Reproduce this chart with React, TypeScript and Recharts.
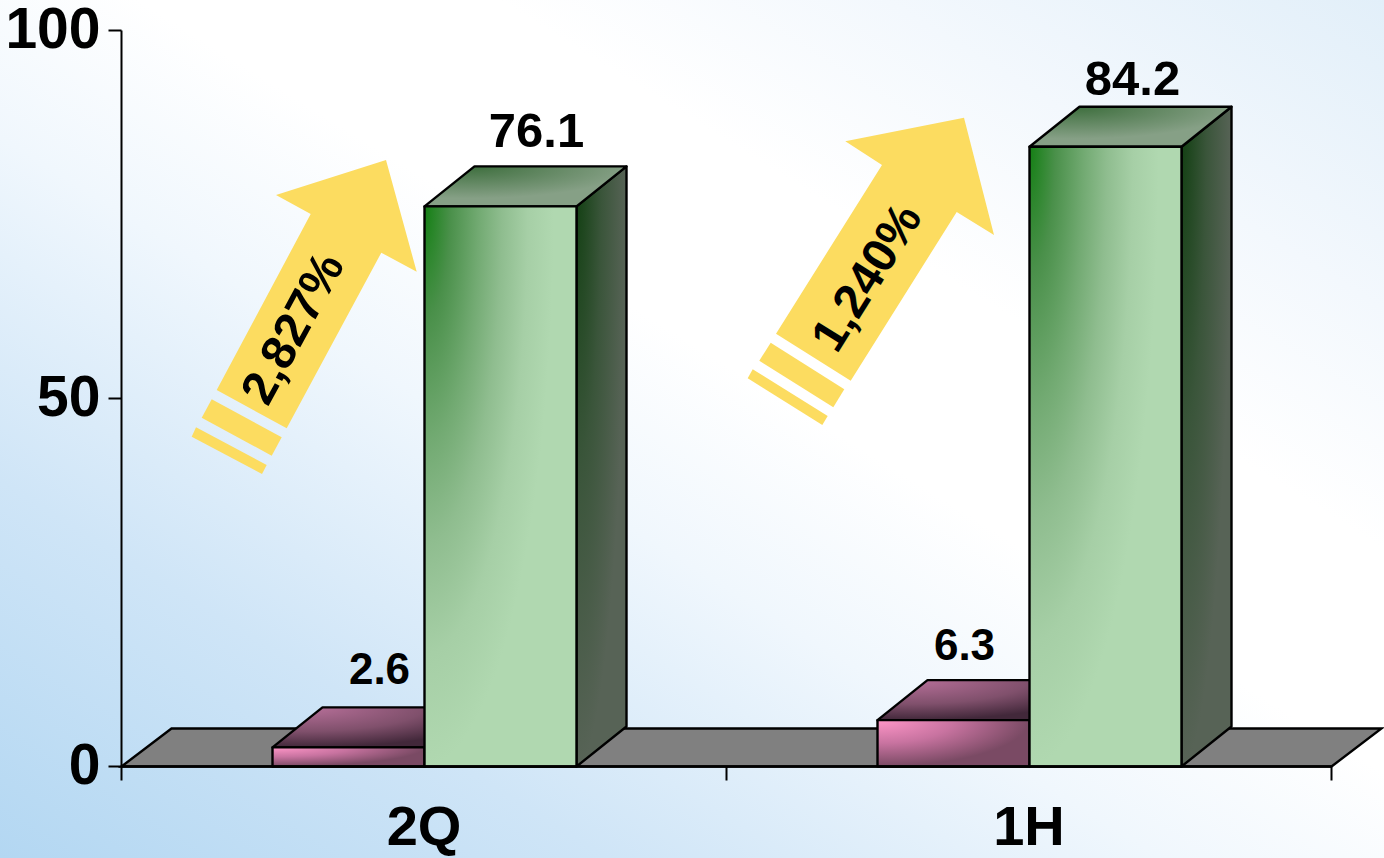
import { Bar, BarChart, LabelList, XAxis, YAxis, usePlotArea } from 'recharts';

const periods = ['2Q', '1H'];
const earlierValues = [2.6, 6.3];
const latestValues = [76.1, 84.2];
const valueTicks = [0, 50, 100];

const rows = periods.map((period, i) => ({
  period,
  earlier: earlierValues[i],
  latest: latestValues[i],
}));

const FONT = '"Liberation Sans", Arial, sans-serif';
const WIDTH = 1384;
const HEIGHT = 858;

// depth of the extruded boxes and of the floor
const DEPTH_X = 50;
const DEPTH_Y = 40;

// hand placed value labels, relative to the top centre of each bar
const earlierLabelShift = [
  { dx: 31, dy: -63 },
  { dx: 11, dy: -60 },
];
const latestLabelShift = [
  { dx: 36, dy: -59 },
  { dx: 27, dy: -52 },
];

const growthArrows = [
  {
    text: '2,827%',
    textAt: [292, 328],
    angle: -61.5,
    body: '386,160 416.7,271.7 381.3,252.7 286.7,428.3 216.7,390 310.7,214 276,195',
    stripeA: '211.7,399.3 281.7,437.3 271.7,455.7 201.7,417.7',
    stripeB: '196,427.3 266.7,465 262,474 191.7,436.7',
  },
  {
    text: '1,240%',
    textAt: [866, 277],
    angle: -58,
    body: '964,117.7 994,235 956.7,212 850.7,380.7 776,333.7 882,165 845.3,141.3',
    stripeA: '770.7,342.7 844.3,389.3 833.3,407.3 759.3,360.7',
    stripeB: '752.7,369.3 827.7,416 822.3,425 747.7,378.3',
  },
];

function Gradients() {
  return (
    <defs>
      <radialGradient id="greenFront" cx="0" cy="0" r="1" gradientTransform="scale(0.85 1)">
        <stop offset="0" stopColor="#147f14" />
        <stop offset="0.2" stopColor="#4a904a" />
        <stop offset="0.42" stopColor="#72aa72" />
        <stop offset="0.6" stopColor="#8fbd8f" />
        <stop offset="0.8" stopColor="#a6cfa6" />
        <stop offset="1" stopColor="#b0d8b0" />
      </radialGradient>
      <radialGradient id="greenSide" cx="0" cy="0" r="1">
        <stop offset="0" stopColor="#113f11" />
        <stop offset="0.5" stopColor="#3a553a" />
        <stop offset="1" stopColor="#576356" />
      </radialGradient>
      <radialGradient id="greenTop" cx="0.22" cy="0" r="0.8">
        <stop offset="0" stopColor="#3d6e3d" />
        <stop offset="1" stopColor="#86a086" />
      </radialGradient>
      <radialGradient id="pinkFront" cx="0" cy="0" r="1">
        <stop offset="0" stopColor="#ff96c8" />
        <stop offset="0.5" stopColor="#c873a0" />
        <stop offset="1" stopColor="#7a4a64" />
      </radialGradient>
      <radialGradient id="pinkSide" cx="0" cy="0" r="1">
        <stop offset="0" stopColor="#5a2f48" />
        <stop offset="1" stopColor="#5e4356" />
      </radialGradient>
      <radialGradient id="pinkTop" cx="0.15" cy="0" r="1">
        <stop offset="0" stopColor="#b8709a" />
        <stop offset="0.6" stopColor="#80506c" />
        <stop offset="1" stopColor="#42283a" />
      </radialGradient>
    </defs>
  );
}

function Box(props: any) {
  const { x, y, width, height, tone } = props;
  const right = x + width;
  const bottom = y + height;
  const edge = { stroke: '#000', strokeWidth: 2.4, strokeLinejoin: 'round' as const };
  return (
    <g>
      <polygon
        points={`${right},${y} ${right + DEPTH_X},${y - DEPTH_Y} ${right + DEPTH_X},${bottom - DEPTH_Y} ${right},${bottom}`}
        fill={`url(#${tone}Side)`}
        {...edge}
      />
      <polygon
        points={`${x},${y} ${x + DEPTH_X},${y - DEPTH_Y} ${right + DEPTH_X},${y - DEPTH_Y} ${right},${y}`}
        fill={`url(#${tone}Top)`}
        {...edge}
      />
      <rect x={x} y={y} width={width} height={height} fill={`url(#${tone}Front)`} {...edge} />
    </g>
  );
}

function Floor() {
  const plot = usePlotArea();
  if (!plot) return null;
  const left = plot.x;
  const right = plot.x + plot.width;
  const base = plot.y + plot.height;
  return (
    <polygon
      points={`${left},${base} ${left + DEPTH_X},${base - DEPTH_Y + 2} ${right + DEPTH_X},${base - DEPTH_Y + 2} ${right},${base}`}
      fill="#808080"
      stroke="#000"
      strokeWidth={2.4}
    />
  );
}

// category ticks sit on the band edges, not on the band centres
function BandEdgeTicks() {
  const plot = usePlotArea();
  if (!plot) return null;
  const base = plot.y + plot.height;
  const step = plot.width / periods.length;
  return (
    <g>
      {[0, 1, 2].map((i) => (
        <line
          key={i}
          x1={plot.x + i * step}
          x2={plot.x + i * step}
          y1={base}
          y2={base + 14}
          stroke="#000"
          strokeWidth={2}
        />
      ))}
    </g>
  );
}

function GrowthArrows() {
  return (
    <g>
      {growthArrows.map((arrow) => (
        <g key={arrow.text} fill="#fcdc60">
          <polygon points={arrow.body} />
          <polygon points={arrow.stripeA} />
          <polygon points={arrow.stripeB} />
          <text
            x={arrow.textAt[0]}
            y={arrow.textAt[1]}
            transform={`rotate(${arrow.angle} ${arrow.textAt[0]} ${arrow.textAt[1]})`}
            textAnchor="middle"
            dominantBaseline="central"
            fontFamily={FONT}
            fontWeight={700}
            fontSize={48}
            fill="#000"
          >
            {arrow.text}
          </text>
        </g>
      ))}
    </g>
  );
}

function valueLabel(shifts: { dx: number; dy: number }[], fontSize: number) {
  return (props: any) => {
    const { x, y, width, value, index } = props;
    const shift = shifts[index];
    return (
      <text
        x={x + width / 2 + shift.dx}
        y={y + shift.dy}
        textAnchor="middle"
        fontFamily={FONT}
        fontWeight={700}
        fontSize={fontSize}
        fill="#000"
      >
        {value}
      </text>
    );
  };
}

export default function App() {
  return (
    <div
      style={{
        position: 'fixed',
        left: 0,
        top: 0,
        width: WIDTH,
        height: HEIGHT,
        background:
          'linear-gradient(to top right, #b3d7f2 0%, #cfe5f7 22%, #f0f7fd 42%, #ffffff 55%, #ffffff 68%, #f3f8fd 82%, #e2eff9 100%)',
      }}
    >
      <BarChart
        width={WIDTH}
        height={HEIGHT}
        data={rows}
        margin={{ top: 30.5, right: 52.5, bottom: 0, left: 0 }}
        barCategoryGap={151}
        barGap={0}
      >
        <Gradients />
        <Floor />
        <XAxis
          dataKey="period"
          height={91.5}
          axisLine={{ stroke: '#000', strokeWidth: 2.4 }}
          tickLine={false}
          tickMargin={33}
          tick={{ fill: '#000', fontFamily: FONT, fontWeight: 700, fontSize: 56 }}
        />
        <YAxis
          width={121.5}
          domain={[0, 100]}
          ticks={valueTicks}
          interval={0}
          axisLine={{ stroke: '#000', strokeWidth: 2 }}
          tickLine={{ stroke: '#000', strokeWidth: 2 }}
          tickSize={13}
          tickMargin={8}
          tick={{ fill: '#000', fontFamily: FONT, fontWeight: 700, fontSize: 57, dy: -3 }}
        />
        <Bar dataKey="earlier" isAnimationActive={false} shape={(p: any) => <Box {...p} tone="pink" />}>
          <LabelList dataKey="earlier" content={valueLabel(earlierLabelShift, 44)} />
        </Bar>
        <Bar dataKey="latest" isAnimationActive={false} shape={(p: any) => <Box {...p} tone="green" />}>
          <LabelList dataKey="latest" content={valueLabel(latestLabelShift, 49)} />
        </Bar>
        <BandEdgeTicks />
        <GrowthArrows />
      </BarChart>
    </div>
  );
}
